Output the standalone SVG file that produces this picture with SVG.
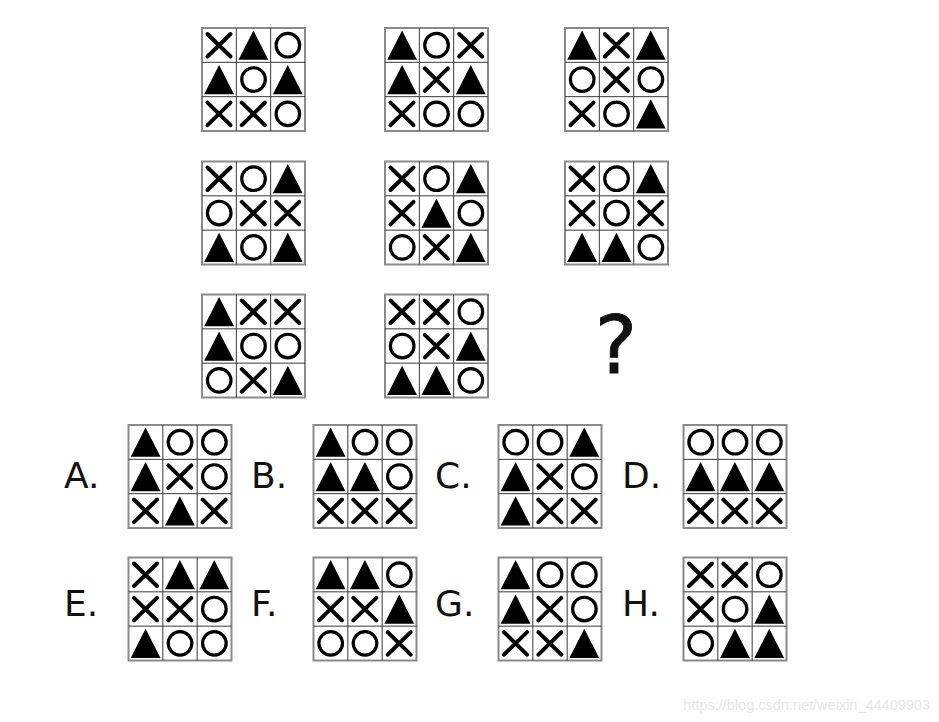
<svg xmlns="http://www.w3.org/2000/svg" xmlns:xlink="http://www.w3.org/1999/xlink" width="939" height="722" viewBox="0 0 939 722">
<style>
.frame{fill:#fff;stroke:#8a8a8a;stroke-width:2}
.inner{stroke:#3a3a3a;stroke-width:1;fill:none}
.lbl{font-family:"DejaVu Sans",sans-serif;font-size:36px;fill:#111}
.q{font-family:"DejaVu Sans",sans-serif;font-size:80px;fill:#111;stroke:#111;stroke-width:0.9;text-anchor:middle}
.wm{font-family:"Liberation Sans",Arial,sans-serif;font-size:14.5px;fill:#e6e6e6;text-anchor:end}
</style>
<defs>
<g id="X"><path d="M5.5 6 L28.5 28.5 M28.5 6 L5.5 28.5" stroke="#000" stroke-width="4" stroke-linecap="round" fill="none"/></g>
<g id="O"><circle cx="17.2" cy="17.2" r="11.8" stroke="#000" stroke-width="3.2" fill="none"/></g>
<g id="T"><polygon points="2.2,31.8 32,31.8 17.1,2.6" fill="#000"/></g>
<g id="grid">
<rect class="frame" x="0" y="0" width="103" height="103"/>
<path class="inner" d="M34.33 0 V103 M68.67 0 V103 M0 34.33 H103 M0 68.67 H103"/>
</g>
</defs>

<!-- Puzzle matrix -->
<g id="g1" transform="translate(202,28)">
<use href="#grid"/>
<use href="#X" x="0" y="0"/><use href="#T" x="34.33" y="0"/><use href="#O" x="68.67" y="0"/>
<use href="#T" x="0" y="34.33"/><use href="#O" x="34.33" y="34.33"/><use href="#T" x="68.67" y="34.33"/>
<use href="#X" x="0" y="68.67"/><use href="#X" x="34.33" y="68.67"/><use href="#O" x="68.67" y="68.67"/>
</g>
<g id="g2" transform="translate(385,28)">
<use href="#grid"/>
<use href="#T" x="0" y="0"/><use href="#O" x="34.33" y="0"/><use href="#X" x="68.67" y="0"/>
<use href="#T" x="0" y="34.33"/><use href="#X" x="34.33" y="34.33"/><use href="#T" x="68.67" y="34.33"/>
<use href="#X" x="0" y="68.67"/><use href="#O" x="34.33" y="68.67"/><use href="#O" x="68.67" y="68.67"/>
</g>
<g id="g3" transform="translate(565,28)">
<use href="#grid"/>
<use href="#T" x="0" y="0"/><use href="#X" x="34.33" y="0"/><use href="#T" x="68.67" y="0"/>
<use href="#O" x="0" y="34.33"/><use href="#X" x="34.33" y="34.33"/><use href="#O" x="68.67" y="34.33"/>
<use href="#X" x="0" y="68.67"/><use href="#O" x="34.33" y="68.67"/><use href="#T" x="68.67" y="68.67"/>
</g>
<g id="g4" transform="translate(202,161.5)">
<use href="#grid"/>
<use href="#X" x="0" y="0"/><use href="#O" x="34.33" y="0"/><use href="#T" x="68.67" y="0"/>
<use href="#O" x="0" y="34.33"/><use href="#X" x="34.33" y="34.33"/><use href="#X" x="68.67" y="34.33"/>
<use href="#T" x="0" y="68.67"/><use href="#O" x="34.33" y="68.67"/><use href="#T" x="68.67" y="68.67"/>
</g>
<g id="g5" transform="translate(385,161.5)">
<use href="#grid"/>
<use href="#X" x="0" y="0"/><use href="#O" x="34.33" y="0"/><use href="#T" x="68.67" y="0"/>
<use href="#X" x="0" y="34.33"/><use href="#T" x="34.33" y="34.33"/><use href="#O" x="68.67" y="34.33"/>
<use href="#O" x="0" y="68.67"/><use href="#X" x="34.33" y="68.67"/><use href="#T" x="68.67" y="68.67"/>
</g>
<g id="g6" transform="translate(565,161.5)">
<use href="#grid"/>
<use href="#X" x="0" y="0"/><use href="#O" x="34.33" y="0"/><use href="#T" x="68.67" y="0"/>
<use href="#X" x="0" y="34.33"/><use href="#O" x="34.33" y="34.33"/><use href="#X" x="68.67" y="34.33"/>
<use href="#T" x="0" y="68.67"/><use href="#T" x="34.33" y="68.67"/><use href="#O" x="68.67" y="68.67"/>
</g>
<g id="g7" transform="translate(202,294.5)">
<use href="#grid"/>
<use href="#T" x="0" y="0"/><use href="#X" x="34.33" y="0"/><use href="#X" x="68.67" y="0"/>
<use href="#T" x="0" y="34.33"/><use href="#O" x="34.33" y="34.33"/><use href="#O" x="68.67" y="34.33"/>
<use href="#O" x="0" y="68.67"/><use href="#X" x="34.33" y="68.67"/><use href="#T" x="68.67" y="68.67"/>
</g>
<g id="g8" transform="translate(385,294.5)">
<use href="#grid"/>
<use href="#X" x="0" y="0"/><use href="#X" x="34.33" y="0"/><use href="#O" x="68.67" y="0"/>
<use href="#O" x="0" y="34.33"/><use href="#X" x="34.33" y="34.33"/><use href="#T" x="68.67" y="34.33"/>
<use href="#T" x="0" y="68.67"/><use href="#T" x="34.33" y="68.67"/><use href="#O" x="68.67" y="68.67"/>
</g>
<g id="question"><text class="q" x="616" y="373">?</text></g>

<!-- Options -->
<g id="optA">
<text class="lbl" x="64" y="488">A.</text>
<g transform="translate(128.5,425)">
<use href="#grid"/>
<use href="#T" x="0" y="0"/><use href="#O" x="34.33" y="0"/><use href="#O" x="68.67" y="0"/>
<use href="#T" x="0" y="34.33"/><use href="#X" x="34.33" y="34.33"/><use href="#O" x="68.67" y="34.33"/>
<use href="#X" x="0" y="68.67"/><use href="#T" x="34.33" y="68.67"/><use href="#X" x="68.67" y="68.67"/>
</g>
</g>
<g id="optB">
<text class="lbl" x="251" y="488">B.</text>
<g transform="translate(313.5,425)">
<use href="#grid"/>
<use href="#T" x="0" y="0"/><use href="#O" x="34.33" y="0"/><use href="#O" x="68.67" y="0"/>
<use href="#T" x="0" y="34.33"/><use href="#T" x="34.33" y="34.33"/><use href="#O" x="68.67" y="34.33"/>
<use href="#X" x="0" y="68.67"/><use href="#X" x="34.33" y="68.67"/><use href="#X" x="68.67" y="68.67"/>
</g>
</g>
<g id="optC">
<text class="lbl" x="435" y="488">C.</text>
<g transform="translate(498.5,425)">
<use href="#grid"/>
<use href="#O" x="0" y="0"/><use href="#O" x="34.33" y="0"/><use href="#T" x="68.67" y="0"/>
<use href="#T" x="0" y="34.33"/><use href="#X" x="34.33" y="34.33"/><use href="#O" x="68.67" y="34.33"/>
<use href="#T" x="0" y="68.67"/><use href="#X" x="34.33" y="68.67"/><use href="#X" x="68.67" y="68.67"/>
</g>
</g>
<g id="optD">
<text class="lbl" x="622" y="488">D.</text>
<g transform="translate(683.5,425)">
<use href="#grid"/>
<use href="#O" x="0" y="0"/><use href="#O" x="34.33" y="0"/><use href="#O" x="68.67" y="0"/>
<use href="#T" x="0" y="34.33"/><use href="#T" x="34.33" y="34.33"/><use href="#T" x="68.67" y="34.33"/>
<use href="#X" x="0" y="68.67"/><use href="#X" x="34.33" y="68.67"/><use href="#X" x="68.67" y="68.67"/>
</g>
</g>
<g id="optE">
<text class="lbl" x="64" y="616">E.</text>
<g transform="translate(128.5,557.5)">
<use href="#grid"/>
<use href="#X" x="0" y="0"/><use href="#T" x="34.33" y="0"/><use href="#T" x="68.67" y="0"/>
<use href="#X" x="0" y="34.33"/><use href="#X" x="34.33" y="34.33"/><use href="#O" x="68.67" y="34.33"/>
<use href="#T" x="0" y="68.67"/><use href="#O" x="34.33" y="68.67"/><use href="#O" x="68.67" y="68.67"/>
</g>
</g>
<g id="optF">
<text class="lbl" x="251" y="616">F.</text>
<g transform="translate(313.5,557.5)">
<use href="#grid"/>
<use href="#T" x="0" y="0"/><use href="#T" x="34.33" y="0"/><use href="#O" x="68.67" y="0"/>
<use href="#X" x="0" y="34.33"/><use href="#X" x="34.33" y="34.33"/><use href="#T" x="68.67" y="34.33"/>
<use href="#O" x="0" y="68.67"/><use href="#O" x="34.33" y="68.67"/><use href="#X" x="68.67" y="68.67"/>
</g>
</g>
<g id="optG">
<text class="lbl" x="435" y="616">G.</text>
<g transform="translate(498.5,557.5)">
<use href="#grid"/>
<use href="#T" x="0" y="0"/><use href="#O" x="34.33" y="0"/><use href="#O" x="68.67" y="0"/>
<use href="#T" x="0" y="34.33"/><use href="#X" x="34.33" y="34.33"/><use href="#O" x="68.67" y="34.33"/>
<use href="#X" x="0" y="68.67"/><use href="#X" x="34.33" y="68.67"/><use href="#T" x="68.67" y="68.67"/>
</g>
</g>
<g id="optH">
<text class="lbl" x="622" y="616">H.</text>
<g transform="translate(683.5,557.5)">
<use href="#grid"/>
<use href="#X" x="0" y="0"/><use href="#X" x="34.33" y="0"/><use href="#O" x="68.67" y="0"/>
<use href="#X" x="0" y="34.33"/><use href="#O" x="34.33" y="34.33"/><use href="#T" x="68.67" y="34.33"/>
<use href="#O" x="0" y="68.67"/><use href="#T" x="34.33" y="68.67"/><use href="#T" x="68.67" y="68.67"/>
</g>
</g>

<g id="connectors"></g>
<text class="wm" x="930" y="710">https://blog.csdn.net/weixin_44409903</text>
</svg>
